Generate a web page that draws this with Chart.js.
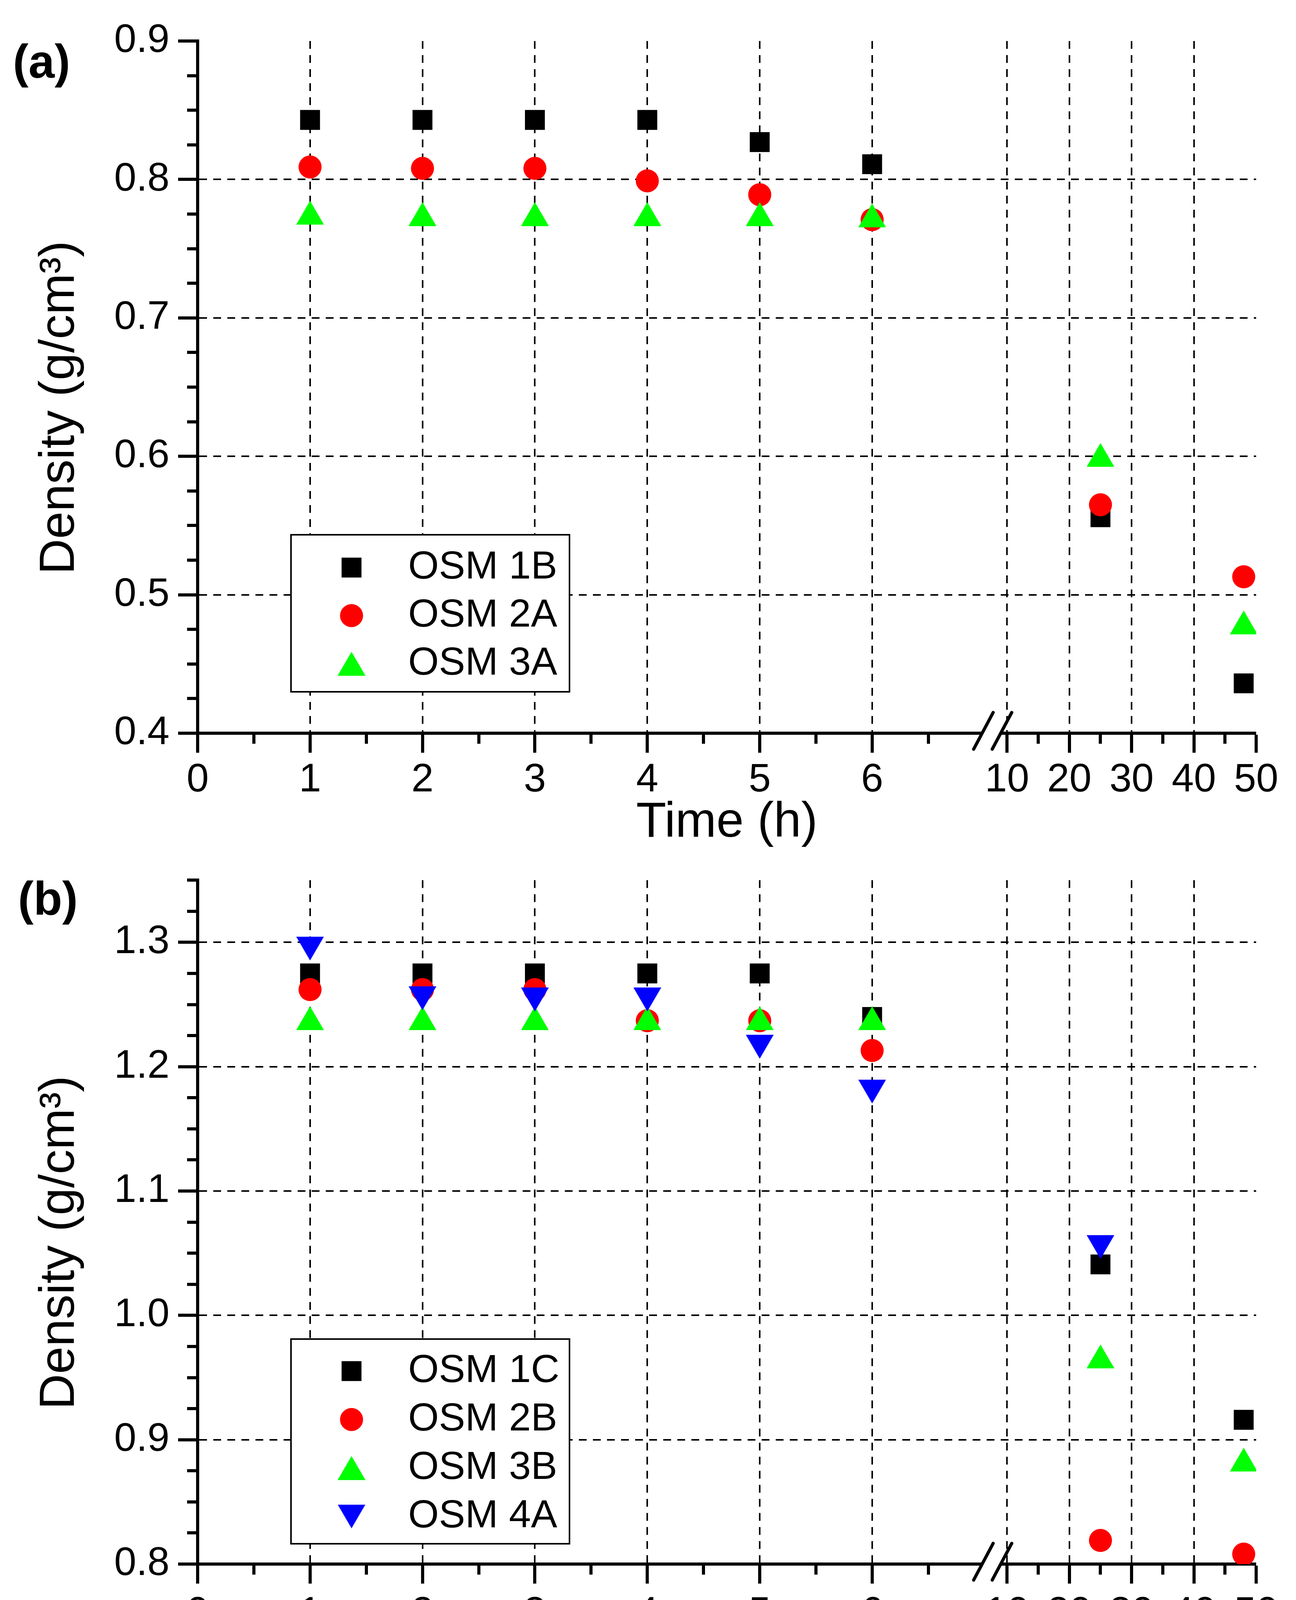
<!DOCTYPE html>
<html>
<head>
<meta charset="utf-8">
<title>Density vs time</title>
<script src="https://cdn.jsdelivr.net/npm/chart.js"></script>
<style>
  html, body { margin: 0; padding: 0; background: #fff; }
  canvas { display: block; }
</style>
</head>
<body>
<canvas id="chartA" width="3318" height="2170"></canvas>
<canvas id="chartB" width="3318" height="2169"></canvas>
<script>
// sampling times (h)
const hours = [1, 2, 3, 4, 5, 6, 25, 48];
const xMajor = [0, 1, 2, 3, 4, 5, 6, 10, 20, 30, 40, 50];
const xMinor = [0.5, 1.5, 2.5, 3.5, 4.5, 5.5, 6.5, 15, 25, 35, 45];

// panel (a)
const labelsA = ['OSM 1B', 'OSM 2A', 'OSM 3A'];
const osm1B = [0.843, 0.843, 0.843, 0.843, 0.827, 0.811, 0.556, 0.436];
const osm2A = [0.809, 0.808, 0.808, 0.799, 0.789, 0.771, 0.565, 0.513];
const osm3A = [0.776, 0.775, 0.775, 0.775, 0.775, 0.774, 0.601, 0.480];
const yMajorA = [0.4, 0.5, 0.6, 0.7, 0.8, 0.9];

// panel (b)
const labelsB = ['OSM 1C', 'OSM 2B', 'OSM 3B', 'OSM 4A'];
const osm1C = [1.275, 1.275, 1.275, 1.275, 1.275, 1.240, 1.041, 0.916];
const osm2B = [1.262, 1.262, 1.262, 1.237, 1.237, 1.213, 0.819, 0.808];
const osm3B = [1.239, 1.239, 1.239, 1.239, 1.239, 1.239, 0.967, 0.884];
const osm4A = [1.295, 1.255, 1.254, 1.254, 1.216, 1.180, 1.055, null];
const yMajorB = [0.8, 0.9, 1.0, 1.1, 1.2, 1.3];

const FONT = "'Liberation Sans', Arial, Helvetica, sans-serif";
Chart.defaults.font.family = FONT;
Chart.defaults.color = '#000';

// broken time axis: 0-7 h linear, gap, then 10-50 h compressed
const BREAK_FROM = 7, BREAK_TO = 10, GAP = 0.2, LATE = 0.0554;
function axisPos(h) {
  return h <= BREAK_FROM ? h : BREAK_FROM + GAP + (h - BREAK_TO) * LATE;
}

class BrokenTimeScale extends Chart.LinearScale {
  getPixelForValue(value) {
    if (value === null || isNaN(value)) return NaN;
    return this.getPixelForDecimal(axisPos(value) / axisPos(this.max));
  }
  getValueForPixel(pixel) {
    const d = this.getDecimalForPixel(pixel) * axisPos(this.max);
    return d <= BREAK_FROM ? d : BREAK_TO + (d - BREAK_FROM - GAP) / LATE;
  }
}
BrokenTimeScale.id = 'brokenTime';
BrokenTimeScale.defaults = {};
Chart.register(BrokenTimeScale);

function triangle(color, down) {
  const w = 71, h = 61;
  const c = document.createElement('canvas');
  c.width = w; c.height = h;
  const g = c.getContext('2d');
  g.fillStyle = color;
  g.beginPath();
  if (down) { g.moveTo(0, 0); g.lineTo(w, 0); g.lineTo(w / 2, h); }
  else { g.moveTo(w / 2, 0); g.lineTo(w, h); g.lineTo(0, h); }
  g.closePath();
  g.fill();
  return c;
}

const markers = [
  { style: 'rect', radius: 36, color: '#000000' },
  { style: 'circle', radius: 29.5, color: '#ff0000' },
  { style: triangle('#00ff00', false), radius: 35, color: '#00ff00' },
  { style: triangle('#0000ff', true), radius: 35, color: '#0000ff' }
];

function minorTicks(majors, max) {
  const out = [];
  const lo = majors[0];
  for (let k = 0; lo + k * 0.025 <= max + 1e-9; k++) {
    const v = Math.round((lo + k * 0.025) * 1000) / 1000;
    if (!majors.includes(v)) out.push(v);
  }
  return out;
}

// legend box, axis break and panel tag
const decor = {
  id: 'decor',
  afterDatasetsDraw(chart, args, opts) {
    const ctx = chart.ctx, lg = opts.legend;
    const n = chart.data.datasets.length;
    const height = lg.first + (n - 1) * lg.step + lg.last;
    ctx.save();
    ctx.fillStyle = '#fff';
    ctx.fillRect(lg.left, lg.top, lg.width, height);
    ctx.lineWidth = 4;
    ctx.strokeStyle = '#000';
    ctx.strokeRect(lg.left, lg.top, lg.width, height);
    chart.data.datasets.forEach((ds, i) => {
      const y = lg.top + lg.first + i * lg.step;
      const st = ds.pointStyle, r = ds.pointRadius;
      ctx.fillStyle = ds.backgroundColor;
      if (st === 'rect') {
        const s = Math.SQRT1_2 * r;
        ctx.fillRect(lg.markerX - s, y - s, 2 * s, 2 * s);
      } else if (st === 'circle') {
        ctx.beginPath();
        ctx.arc(lg.markerX, y, r, 0, Math.PI * 2);
        ctx.fill();
      } else {
        ctx.drawImage(st, lg.markerX - st.width / 2, y - st.height / 2);
      }
      ctx.fillStyle = '#000';
      ctx.font = `101px ${FONT}`;
      ctx.textBaseline = 'middle';
      ctx.textAlign = 'left';
      ctx.fillText(ds.label, lg.textX, y);
    });
    ctx.restore();
  },
  afterDraw(chart, args, opts) {
    const ctx = chart.ctx, xs = chart.scales.x;
    const y0 = xs.top;
    const a = xs.getPixelForValue(BREAK_FROM) - 6;
    const b = xs.getPixelForValue(BREAK_TO) - 16;
    ctx.save();
    ctx.fillStyle = '#fff';
    ctx.fillRect(a, y0 - 6, b - a, 12);
    ctx.strokeStyle = '#000';
    ctx.lineWidth = 8;
    ctx.lineCap = 'round';
    [a, b].forEach(cx => {
      ctx.beginPath();
      ctx.moveTo(cx - 22, y0 + 41);
      ctx.lineTo(cx + 28, y0 - 53);
      ctx.stroke();
    });
    ctx.fillStyle = '#000';
    ctx.font = `bold 120px ${FONT}`;
    ctx.textBaseline = 'alphabetic';
    ctx.textAlign = 'left';
    ctx.fillText(opts.tag, opts.tagX, opts.tagY);
    ctx.restore();
  }
};

function makePanel(id, cfg) {
  const xTicks = xMajor.concat(xMinor).sort((p, q) => p - q);
  const yMax = cfg.yMax, yMin = cfg.yMajor[0];
  const yTicks = cfg.yMajor.concat(minorTicks(cfg.yMajor, yMax)).sort((p, q) => p - q);
  const n = cfg.series.length;
  const datasets = cfg.series.map((vals, i) => ({
    label: cfg.labels[i],
    data: hours.map((h, j) => ({ x: h, y: vals[j] })).filter(p => p.y !== null),
    pointStyle: markers[i].style,
    pointRadius: markers[i].radius,
    pointHoverRadius: markers[i].radius,
    backgroundColor: markers[i].color,
    borderColor: markers[i].color,
    borderWidth: 0,
    showLine: false,
    order: n - i
  }));

  return new Chart(document.getElementById(id), {
    type: 'scatter',
    data: { datasets: datasets },
    plugins: [decor],
    options: {
      responsive: false,
      animation: false,
      events: [],
      layout: { padding: { top: cfg.top, right: 102, bottom: 0, left: 0 } },
      plugins: {
        legend: { display: false },
        tooltip: { enabled: false },
        decor: { legend: cfg.legend, tag: cfg.tag, tagX: cfg.tagX, tagY: cfg.tagY }
      },
      scales: {
        x: {
          type: 'brokenTime',
          min: 0,
          max: 50,
          afterBuildTicks: s => { s.ticks = xTicks.map(v => ({ value: v })); },
          afterFit: s => { s.height = cfg.xAxisHeight; },
          ticks: {
            autoSkip: false, maxRotation: 0, minRotation: 0,
            padding: cfg.xTickPad,
            font: { size: 102 },
            color: '#000',
            callback: v => xMajor.includes(v) ? String(v) : ''
          },
          grid: {
            color: '#000',
            lineWidth: c => (c.tick && xMajor.includes(c.tick.value) && c.tick.value > 0 && c.tick.value < 50) ? 4 : 0,
            tickColor: '#000',
            tickWidth: 8,
            tickLength: 50,
            tickBorderDash: c => (c.tick && xMinor.includes(c.tick.value)) ? [23, 1000] : []
          },
          border: { color: '#000', width: 8, dash: [20, 16] },
          title: {
            display: true, text: 'Time (h)', color: '#000',
            font: { size: 126, lineHeight: 1 },
            padding: { top: 0, bottom: cfg.xTitlePad }
          }
        },
        y: {
          min: yMin,
          max: yMax,
          afterBuildTicks: s => { s.ticks = yTicks.map(v => ({ value: v })); },
          afterFit: s => { s.width = 506; },
          ticks: {
            autoSkip: false,
            padding: 22,
            font: { size: 102 },
            color: '#000',
            callback: v => cfg.yMajor.includes(v) ? v.toFixed(1) : ''
          },
          grid: {
            color: '#000',
            lineWidth: c => (c.tick && cfg.yMajor.includes(c.tick.value) && c.tick.value > yMin && c.tick.value < yMax) ? 4 : 0,
            tickColor: '#000',
            tickWidth: 8,
            tickLength: 50,
            tickBorderDash: c => (c.tick && !cfg.yMajor.includes(c.tick.value)) ? [0, 23, 30, 1000] : []
          },
          border: { color: '#000', width: 8, dash: [20, 16] },
          title: {
            display: true, text: 'Density (g/cm\u00b3)   ', color: '#000',
            font: { size: 126, lineHeight: 1 },
            padding: { top: 91, bottom: 0 }
          }
        }
      }
    }
  });
}

makePanel('chartA', {
  labels: labelsA,
  series: [osm1B, osm2A, osm3A],
  yMajor: yMajorA,
  yMax: 0.9,
  top: 105,
  xAxisHeight: 293,
  xTickPad: 10,
  xTitlePad: 0,
  tag: '(a)', tagX: 33, tagY: 199,
  legend: { left: 745, top: 1369, width: 713, first: 84, step: 123, last: 72, markerX: 900, textX: 1045 }
});

makePanel('chartB', {
  labels: labelsB,
  series: [osm1C, osm2B, osm3B, osm4A],
  yMajor: yMajorB,
  yMax: 1.35,
  top: 64,
  xAxisHeight: 335,
  xTickPad: 16,
  xTitlePad: 42,
  tag: '(b)', tagX: 46, tagY: 172,
  legend: { left: 745, top: 1258, width: 713, first: 82, step: 124, last: 70, markerX: 900, textX: 1045 }
});
</script>
</body>
</html>
